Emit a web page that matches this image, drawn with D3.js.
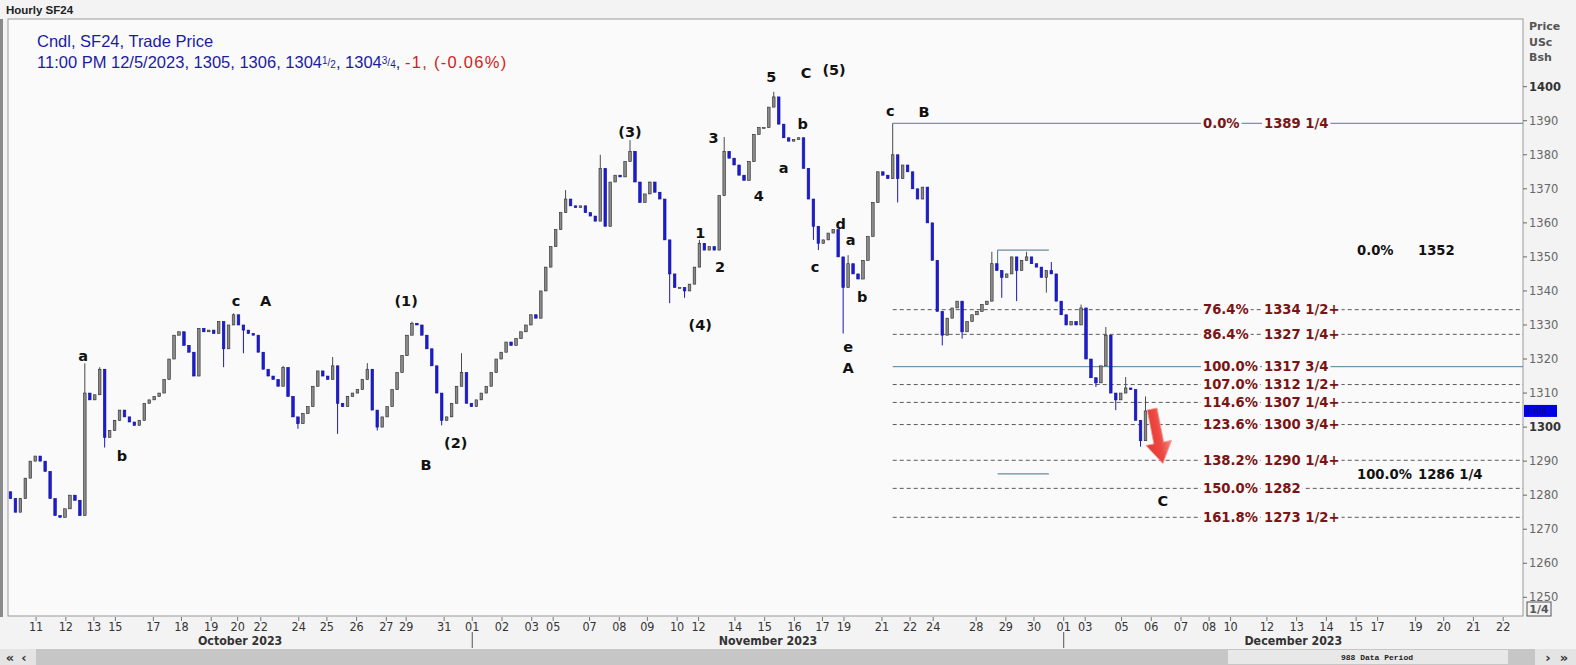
<!DOCTYPE html>
<html><head><meta charset="utf-8">
<script src="https://cdn.jsdelivr.net/npm/d3@7"></script>
<style>
html,body{margin:0;padding:0;background:#f3f3f3;overflow:hidden;}
svg{display:block;}
</style></head><body>
<svg id="c" width="1576" height="665"></svg>
<script>
// ---------------- DATA ----------------
const firstOpen = 1281;
// closes of successive 3-hour candles (trading hours)
const closes = [
1279,1275,1279,1285,1290,1291.5,1290,1287,1279,1274,
1273.5,1276,1280,1278.5,1274,1310,1308,1309.5,1317,1297,
1299,1302,1305,1303,1301.5,1300.5,1302,1307,1308,1309,
1310,1314,1320,1327,1328,1324,1322,1315,1329,1328,
1328.5,1327.5,1331,1323,1330,1333,1330,1328.5,1327.5,1327,
1322,1317,1315,1314,1312,1317.5,1309,1303,1301,1304,
1306,1312,1316.5,1315,1314,1318,1307,1306,1309,1310,
1311,1314,1317,1305,1300,1303,1306,1311,1316,1321,
1327,1330.5,1330,1327,1323,1318,1310,1302,1303,1307,
1312,1316,1307,1306,1308,1310,1312,1316,1320,1322,
1325,1324,1326,1328,1330,1333,1332,1340,1347,1353,
1358,1363,1367,1365,1364.5,1365,1363,1362,1360.5,1376,
1359,1372,1374,1373.5,1378,1381,1372,1366,1368.5,1372,
1369,1367,1355,1345,1341,1341,1340,1342,1347,1354,
1352,1353,1352,1368,1381,1379,1377,1374,1372.5,1378,
1386,1388,1388,1394,1397,1389,1385,1384,1384.5,1385,
1376,1367,1359,1354,1355,1357,1358,1350,1341,1348,
1345,1343.5,1349,1356,1366,1375,1374,1373,1380,1373,
1377,1375,1370,1367,1370.5,1360,1349,1334,1327,1332,
1335,1337,1328,1331,1333,1334,1336,1337,1348,1346,
1344,1345,1350,1346,1349,1350,1348,1347,1344,1346,
1345,1337,1333,1330,1331,1330,1335,1320,1314.5,1313,
1318,1327,1310,1308,1310,1311.5,1311,1302,1296,1304.75
];
// extra wick extremes: [candle index, high, low]
const wicks = [
[15,1318.75,null],[18,1317.6,null],[19,null,1294],[43,null,1317.6],[45,1333.4,null],
[47,null,1321.7],[55,1318,null],[58,null,1299.5],[65,1320.6,null],[66,null,1298],
[72,1318.8,null],[74,null,1299],[81,1331,null],[87,null,1300.5],[91,1321.7,null],
[112,1369.6,null],[119,1380,null],[125,1384.3,null],[133,null,1336.4],[136,null,1338],
[139,1355,null],[144,1385.2,null],[154,1398.5,null],[162,null,1355],[163,null,1352],
[168,null,1327.5],[169,1350.5,null],[178,1389.25,null],[179,null,1366],[188,null,1324],
[192,null,1326],[198,1351.5,null],[200,null,1338],[203,null,1337],[205,1351.5,null],
[209,null,1339.5],[210,1348.5,null],[216,1336,null],[219,null,1311.8],[221,1329.4,null],
[223,null,1305],[225,1314.7,null],[228,null,1294.25],[229,1309,null]
];
const hoursPerCandle = 3;
const totalHours = 917;
// x axis: trading-hour offset at which each labelled day starts
const dayLabels = ["11","12","13","15","17","18","19","20","22","24","25","26","27","29","31","01","02","03","05","07","08","09","10","12","14","15","16","17","19","21","22","24","28","29","30","01","03","05","06","07","08","10","12","13","14","15","17","19","20","21","22"];
const dayHours = [17,35,52,65,88,105,123,139,153,176,193,211,229,241,264,281,299,317,330,352,370,387,405,418,440,458,476,493,506,529,546,560,586,604,621,639,652,674,692,710,727,740,762,780,798,816,829,852,869,887,905];
const monthNames = ["October 2023","November 2023","December 2023"];
const monthStartHours = [0,281,639];
// price axis
const priceTicks = [1250,1260,1270,1280,1290,1300,1310,1320,1330,1340,1350,1360,1370,1380,1390,1400];
// Fibonacci levels anchored at the B top
const fibAnchorCandle = 178;
const fibPct = ["0.0%","76.4%","86.4%","100.0%","107.0%","114.6%","123.6%","138.2%","150.0%","161.8%"];
const fibValue = [1389.25,1334.5,1327.25,1317.75,1312.5,1307.25,1300.75,1290.25,1282,1273.5];
const fibText = ["1389 1/4","1334 1/2+","1327 1/4+","1317 3/4","1312 1/2+","1307 1/4+","1300 3/4+","1290 1/4+","1282","1273 1/2+"];
const fibSolid = [true,false,false,true,false,false,false,false,false,false];
// projection (black)
const projPct = ["0.0%","100.0%"];
const projValue = [1352,1286.25];
const projText = ["1352","1286 1/4"];
const projFromHour = 599, projToHour = 630;
// wave labels: [text, trading hour, price]
const waveLabels = [
["a",45.5,1321],["b",69,1291.5],["c",138,1337],["A",156,1337],["(1)",241,1337],
["B",253,1288.8],["(2)",271,1295.5],["(3)",376.5,1386.8],["1",419,1357],["2",431,1347],
["3",427,1385],["4",454.5,1368],["(4)",419,1330],["5",462,1403],["C",483,1404],
["(5)",500,1405],["b",481,1389],["a",469.5,1376.3],["d",504,1359.7],["a",510,1354.9],
["c",488.5,1347],["b",517,1338.4],["e",508.5,1323.6],["A",508.5,1317.4],["c",534,1393],
["B",554.5,1392.6],["C",699,1278.4]
];
const lastPrice = 1304.75;
// arrow annotation: from / to (trading hour, price)
const arrowFrom = [692.5,1305.3], arrowTo = [699,1289.3];

// ---------------- LAYOUT ----------------
const L = 8, R = 1523, T = 19, B = 616;
const svg = d3.select("#c");
const x = d3.scaleLinear().domain([0,totalHours]).range([L,R]);
const y = d3.scaleLinear().domain([1250,1400]).range([597.3,86.7]);
const plotBg = "#fafafa";

svg.append("rect").attr("width",1576).attr("height",665).attr("fill","#f3f3f3");
// header
svg.append("text").attr("x",6).attr("y",14).attr("font-family","Liberation Sans, Arial, sans-serif")
  .attr("font-size",11.5).attr("font-weight","bold").attr("fill","#222").text("Hourly SF24");
svg.append("rect").attr("x",0).attr("y",19).attr("width",3).attr("height",598).attr("fill","#8a8a8a");
// plot frame
svg.append("rect").attr("x",L).attr("y",T).attr("width",R-L).attr("height",B-T)
  .attr("fill",plotBg).attr("stroke","#9a9a9a").attr("stroke-width",1);

const gPlot = svg.append("g");
// fib lines
const fx0 = x(fibAnchorCandle*hoursPerCandle+1.5);
fibValue.forEach((v,i)=>{
  gPlot.append("line").attr("x1",fx0).attr("x2",R).attr("y1",y(v)).attr("y2",y(v))
    .attr("stroke", fibSolid[i] ? "#4f7f95" : "#5a5a5a").attr("stroke-width",1)
    .attr("stroke-dasharray", fibSolid[i] ? null : "4,3");
});
// projection brackets
projValue.forEach(v=>{
  gPlot.append("line").attr("x1",x(projFromHour)).attr("x2",x(projToHour)).attr("y1",y(v)).attr("y2",y(v))
    .attr("stroke","#4f6f85").attr("stroke-width",1);
});
gPlot.append("line").attr("x1",x(projFromHour)).attr("x2",x(projFromHour)).attr("y1",y(projValue[0])).attr("y2",y(1348))
  .attr("stroke","#4f6f85").attr("stroke-width",1);

// candles
const candles = closes.map((c,i)=>{
  const o = i===0 ? firstOpen : closes[i-1];
  let hi = Math.max(o,c), lo = Math.min(o,c);
  return {i,o,c,hi,lo};
});
wicks.forEach(([i,h,l])=>{ if(h!=null) candles[i].hi=Math.max(candles[i].hi,h); if(l!=null) candles[i].lo=Math.min(candles[i].lo,l); });
const bw = 2.6;
const gC = gPlot.append("g");
candles.forEach(d=>{
  const cx = x(d.i*hoursPerCandle+1.5);
  const down = d.c < d.o;
  gC.append("line").attr("x1",cx).attr("x2",cx).attr("y1",y(d.hi)).attr("y2",y(d.lo))
    .attr("stroke", down ? "#1818c0" : "#4a4a4a").attr("stroke-width",1);
  const top = y(Math.max(d.o,d.c)), h = Math.max(1, y(Math.min(d.o,d.c))-top);
  gC.append("rect").attr("x",cx-bw/2).attr("y",top).attr("width",bw).attr("height",h)
    .attr("fill", down ? "#1c1cd0" : "#8a8a8a").attr("stroke", down ? "#12129e" : "#2a2a2a").attr("stroke-width",0.6);
});

// fib labels with knock-out backgrounds
function knockText(g, tx, ty, str, color, size){
  const t = g.append("text").attr("x",tx).attr("y",ty).attr("dy","0.36em")
    .attr("font-family","DejaVu Sans, Verdana, sans-serif").attr("font-weight","bold")
    .attr("font-size",size).attr("fill",color).text(str);
  const bb = t.node().getBBox();
  g.insert("rect","text").attr("x",bb.x-2).attr("y",bb.y).attr("width",bb.width+4).attr("height",bb.height).attr("fill",plotBg);
  return t;
}
fibValue.forEach((v,i)=>{
  const g = gPlot.append("g");
  knockText(g, 1203, y(v), fibPct[i], "#7a1414", 13.2);
  const g2 = gPlot.append("g");
  knockText(g2, 1264, y(v), fibText[i], "#7a1414", 13.2);
});
projValue.forEach((v,i)=>{
  gPlot.append("text").attr("x",1357).attr("y",y(v)).attr("dy","0.36em")
    .attr("font-family","DejaVu Sans, Verdana, sans-serif").attr("font-weight","bold")
    .attr("font-size",13.2).attr("fill","#111").text(projPct[i]);
  gPlot.append("text").attr("x",1418).attr("y",y(v)).attr("dy","0.36em")
    .attr("font-family","DejaVu Sans, Verdana, sans-serif").attr("font-weight","bold")
    .attr("font-size",13.2).attr("fill","#111").text(projText[i]);
});

// wave labels
waveLabels.forEach(([t,h,p])=>{
  gPlot.append("text").attr("x",x(h)).attr("y",y(p)).attr("dy","0.36em").attr("text-anchor","middle")
    .attr("font-family","DejaVu Sans, Verdana, sans-serif").attr("font-weight","bold")
    .attr("font-size",14.5).attr("fill","#111").text(t);
});

// red arrow (annotation pointing lower)
(function(){
  const x0 = x(arrowFrom[0]), y0 = y(arrowFrom[1]), x1 = x(arrowTo[0]), y1 = y(arrowTo[1]);
  const ang = Math.atan2(y1-y0, x1-x0);
  const len = Math.hypot(x1-x0,y1-y0);
  const defs = svg.append("defs");
  const gr = defs.append("linearGradient").attr("id","ag").attr("x1","0").attr("y1","0").attr("x2","0").attr("y2","1");
  gr.append("stop").attr("offset","0").attr("stop-color","#f58a84");
  gr.append("stop").attr("offset","0.45").attr("stop-color","#ee4640");
  gr.append("stop").attr("offset","1").attr("stop-color","#e03a34");
  const g = gPlot.append("g").attr("transform",`translate(${x0},${y0}) rotate(${ang*180/Math.PI})`);
  const hl = 21, sw = 5, hw = 13;
  g.append("path").attr("d",`M0,${-sw} L${len-hl},${-sw} L${len-hl},${-hw} L${len},0 L${len-hl},${hw} L${len-hl},${sw} L0,${sw} Z`)
    .attr("fill","url(#ag)").attr("stroke","#f39a94").attr("stroke-width",0.8);
})();

// legend
const leg = svg.append("g").attr("font-family","Liberation Sans, Arial, sans-serif").attr("font-size",16.5);
leg.append("text").attr("x",37).attr("y",47).attr("fill","#1c1ca0").text("Cndl, SF24, Trade Price");
const l2 = leg.append("text").attr("x",37).attr("y",68).attr("fill","#1c1ca0");
l2.append("tspan").text("11:00 PM 12/5/2023, 1305, 1306, 1304");
l2.append("tspan").attr("font-size",10).attr("dy",-4).text("1");
l2.append("tspan").attr("font-size",10).attr("dy",2).text("/");
l2.append("tspan").attr("font-size",10).attr("dy",2).text("2");
l2.append("tspan").attr("dy",0).text(", 1304");
l2.append("tspan").attr("font-size",10).attr("dy",-4).text("3");
l2.append("tspan").attr("font-size",10).attr("dy",2).text("/");
l2.append("tspan").attr("font-size",10).attr("dy",2).text("4");
l2.append("tspan").attr("dy",0).text(", ");
l2.append("tspan").attr("fill","#d42020").attr("letter-spacing",1.3).text("-1, (-0.06%)");

// right price axis
const gy = svg.append("g");
["Price","USc","Bsh"].forEach((t,i)=>{
  gy.append("text").attr("x",1529).attr("y",30+i*15.5).attr("font-family","DejaVu Sans, Verdana, sans-serif")
    .attr("font-size",11).attr("font-weight","bold").attr("fill","#555").text(t);
});
priceTicks.forEach(p=>{
  gy.append("line").attr("x1",R).attr("x2",R+4).attr("y1",y(p)).attr("y2",y(p)).attr("stroke","#666");
  gy.append("text").attr("x",R+6).attr("y",y(p)).attr("dy","0.36em").attr("font-family","DejaVu Sans, Verdana, sans-serif")
    .attr("font-size",11.5).attr("font-weight", (p===1300||p===1400)?"bold":"normal")
    .attr("fill",(p===1300||p===1400)?"#333":"#666").text(p);
});
gy.append("rect").attr("x",R+1).attr("y",y(lastPrice)-6).attr("width",33).attr("height",12).attr("fill","#0000e8");
gy.append("text").attr("x",R+3).attr("y",y(lastPrice)).attr("dy","0.36em").attr("font-family","DejaVu Sans, sans-serif")
  .attr("font-size",8.5).attr("fill","#10106a").text("1304");
gy.append("rect").attr("x",R+4).attr("y",602).attr("width",24).attr("height",14).attr("fill","none").attr("stroke","#555");
gy.append("text").attr("x",R+16).attr("y",609).attr("dy","0.36em").attr("text-anchor","middle")
  .attr("font-family","DejaVu Sans, Verdana, sans-serif").attr("font-size",11).attr("font-weight","bold").attr("fill","#555").text("1/4");

// bottom time axis
const gx = svg.append("g").attr("font-family","Liberation Sans Narrow, DejaVu Sans Condensed, Arial Narrow, sans-serif");
dayHours.forEach((h,i)=>{
  gx.append("line").attr("x1",x(h)).attr("x2",x(h)).attr("y1",B+1).attr("y2",B+5).attr("stroke","#777");
  gx.append("text").attr("x",x(h)).attr("y",631).attr("text-anchor","middle").attr("font-size",12.5)
    .attr("fill","#333").text(dayLabels[i]);
});
monthNames.forEach((m,i)=>{
  const a = x(monthStartHours[i]), b = x(i<monthNames.length-1 ? monthStartHours[i+1] : totalHours);
  gx.append("text").attr("x",(a+b)/2).attr("y",645).attr("text-anchor","middle").attr("font-size",12.3)
    .attr("font-weight","bold").attr("fill","#333").text(m);
  if(i>0) gx.append("line").attr("x1",a).attr("x2",a).attr("y1",632).attr("y2",648).attr("stroke","#555");
});

// scrollbar
svg.append("rect").attr("x",0).attr("y",649).attr("width",1576).attr("height",16).attr("fill","#c6c6c6");
svg.append("rect").attr("x",0).attr("y",649).attr("width",36).attr("height",16).attr("fill","#e4e4e4");
svg.append("rect").attr("x",1535).attr("y",649).attr("width",41).attr("height",16).attr("fill","#e4e4e4");
svg.append("rect").attr("x",1228).attr("y",650).attr("width",280).attr("height",14).attr("fill","#e8e8e8");
svg.append("text").attr("x",1377).attr("y",657).attr("dy","0.36em").attr("text-anchor","middle")
  .attr("font-family","Liberation Mono, DejaVu Sans Mono, monospace").attr("font-size",8).attr("font-weight","bold")
  .attr("fill","#222").text("988 Data Period");
[["«",10],["‹",24],["›",1548],["»",1564]].forEach(([t,xx])=>{
  svg.append("text").attr("x",xx).attr("y",657).attr("dy","0.36em").attr("text-anchor","middle")
    .attr("font-family","DejaVu Sans, sans-serif").attr("font-size",13).attr("font-weight","bold").attr("fill","#333").text(t);
});
</script>
</body></html>
